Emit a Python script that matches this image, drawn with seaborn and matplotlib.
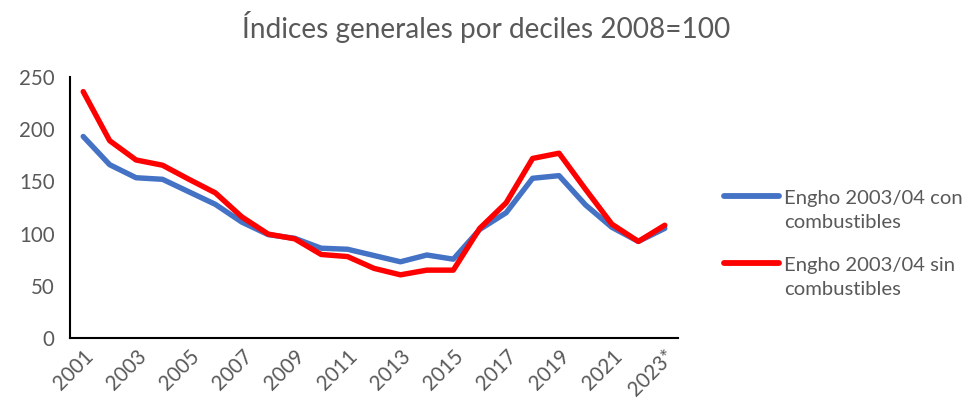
import numpy as np
import pandas as pd
import matplotlib.pyplot as plt
import seaborn as sns
from matplotlib.legend_handler import HandlerLine2D

years = ['2001', '2002', '2003', '2004', '2005', '2006', '2007', '2008', '2009', '2010', '2011', '2012',
         '2013', '2014', '2015', '2016', '2017', '2018', '2019', '2020', '2021', '2022', '2023*']
con_comb = [193, 166, 153.5, 152, 140, 128, 111, 99, 95.5, 86, 85, 79,
            73, 79.5, 75.5, 104, 120, 153, 155.5, 127.5, 106, 92.5, 105]
sin_comb = [236, 189, 170.5, 165.5, 152, 139, 116, 99.5, 95, 80, 78, 66.7,
            60.5, 65, 65, 105, 129.5, 172, 177, 142.5, 109, 92.5, 108]

df = pd.DataFrame({'year': years * 2,
                   'valor': con_comb + sin_comb,
                   'serie': ['Engho 2003/04 con\ncombustibles'] * len(years) +
                            ['Engho 2003/04 sin\ncombustibles'] * len(years)})
df['pos'] = list(range(len(years))) * 2


# legend line sits next to the first text line, like excel does
class TopHandler(HandlerLine2D):
    def create_artists(self, legend, orig_handle, xdescent, ydescent, width, height, fontsize, trans):
        arts = super().create_artists(legend, orig_handle, xdescent, ydescent, width, height, fontsize, trans)
        for a in arts:
            a.set_ydata(np.array(a.get_ydata()) + 0.72 * fontsize)
        return arts


sns.set_style('white')
plt.rcParams['font.family'] = ['Lato', 'DejaVu Sans']
grey = '#595959'

fig = plt.figure(figsize=(9.74, 4.09), dpi=100)
ax = fig.add_axes([70 / 974, 1 - 338 / 409, 608 / 974, 261 / 409])

sns.lineplot(data=df, x='pos', y='valor', hue='serie',
             palette=['#4472C4', '#FF0000'], linewidth=3.9, ax=ax)

ax.set_xlim(-0.5, len(years) - 0.5)
ax.set_ylim(0, 250)
ax.set_yticks(range(0, 251, 50))
ax.set_xticks(range(0, len(years), 2))
ax.set_xticklabels(years[::2], rotation=45, ha='right', rotation_mode='anchor')
ax.tick_params(axis='both', colors=grey, labelsize=14.8, length=0)
ax.tick_params(axis='y', pad=11)
ax.tick_params(axis='x', pad=6)
ax.set_xlabel('')
ax.set_ylabel('')
for s in ['top', 'right']:
    ax.spines[s].set_visible(False)
for s in ['left', 'bottom']:
    ax.spines[s].set_color('black')
    ax.spines[s].set_linewidth(1.5)

h, l = ax.get_legend_handles_labels()
leg = ax.legend(h, l, loc='center left', bbox_to_anchor=(1.045, 0.36), frameon=False,
                fontsize=14.6, handlelength=2.75, handletextpad=0.25, labelspacing=1.3,
                handler_map={type(h[0]): TopHandler()})
for t in leg.get_texts():
    t.set_color(grey)
    t.set_linespacing(1.5)
for ln in leg.get_lines():
    ln.set_linewidth(4.2)

fig.text(0.499, 0.935, 'Índices generales por deciles 2008=100', ha='center', va='center',
         fontsize=20.2, color=grey)

plt.savefig('out.png', dpi=100)
